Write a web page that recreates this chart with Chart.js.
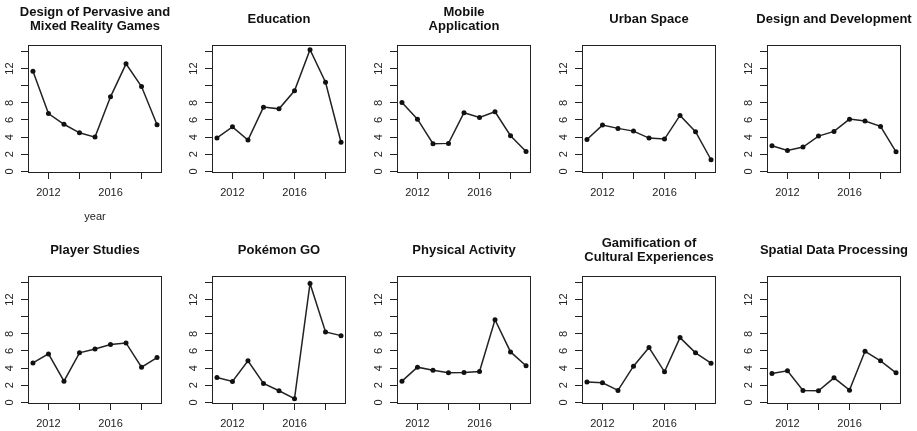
<!DOCTYPE html>
<html>
<head>
<meta charset="utf-8">
<script src="https://cdn.jsdelivr.net/npm/chart.js@4.4.0/dist/chart.umd.min.js"></script>
<style>
html, body { margin: 0; padding: 0; background: #fff; }
body { width: 917px; height: 431px; position: relative; overflow: hidden; }
canvas { position: absolute; }
</style>
</head>
<body>
<script>
const years = [2011, 2012, 2013, 2014, 2015, 2016, 2017, 2018, 2019];
const xTicks = [2012, 2014, 2016, 2018];
const xLabels = ["2012", "", "2016", ""];
const yTicks = [0, 2, 4, 6, 8, 10, 12, 14];
const yLabels = ["0", "2", "4", "6", "8", "", "12", ""];

const titles = [
    ["Design of Pervasive and", "Mixed Reality Games"],
    ["Education"],
    ["Mobile", "Application"],
    ["Urban Space"],
    ["Design and Development"],
    ["Player Studies"],
    ["Pokémon GO"],
    ["Physical Activity"],
    ["Gamification of", "Cultural Experiences"],
    ["Spatial Data Processing"]
];

const pervasive    = [11.7, 6.75, 5.5, 4.5, 4.0, 8.7, 12.55, 9.9, 5.45];
const education    = [3.9, 5.2, 3.65, 7.5, 7.3, 9.4, 14.2, 10.4, 3.4];
const mobile       = [8.05, 6.1, 3.23, 3.27, 6.85, 6.3, 6.96, 4.16, 2.33];
const urban        = [3.73, 5.4, 5.02, 4.7, 3.89, 3.77, 6.53, 4.63, 1.36];
const designDev    = [2.99, 2.45, 2.84, 4.12, 4.67, 6.1, 5.87, 5.25, 2.29];
const player       = [4.61, 5.66, 2.48, 5.78, 6.24, 6.75, 6.94, 4.11, 5.23];
const pokemon      = [2.91, 2.44, 4.85, 2.21, 1.36, 0.43, 13.88, 8.22, 7.79];
const physical     = [2.48, 4.11, 3.76, 3.45, 3.49, 3.61, 9.65, 5.89, 4.27];
const gamification = [2.37, 2.29, 1.4, 4.23, 6.4, 3.57, 7.56, 5.78, 4.58];
const spatial      = [3.37, 3.68, 1.4, 1.36, 2.87, 1.43, 5.97, 4.85, 3.45];

const series = [pervasive, education, mobile, urban, designDev,
                player, pokemon, physical, gamification, spatial];

Chart.defaults.font.family = "'Liberation Sans', Arial, sans-serif";
Chart.defaults.color = "#222";

const boxLefts = [28, 212, 397, 582, 767];
const ink = "#222";

// draws the R style frame round the plot region
const boxPlugin = {
    id: "box",
    beforeDatasetsDraw(chart) {
        const a = chart.chartArea;
        const ctx = chart.ctx;
        ctx.save();
        ctx.strokeStyle = ink;
        ctx.lineWidth = 1;
        ctx.strokeRect(Math.round(a.left) + 0.5, Math.round(a.top) + 0.5,
                       Math.round(a.right - a.left) - 1, Math.round(a.bottom - a.top));
        ctx.restore();
    }
};

for (var i = 0; i < series.length; i++) {
    var row = i < 5 ? 0 : 1;
    var col = i % 5;
    var canvasTop = row ? 228 : 0;
    var canvasHeight = row ? 227 : 224;
    var boxTop = row ? 48 : 45;
    var center = row ? 22.7 : 19.8;
    var n = titles[i].length;
    var pt = center - n * 7;
    var pb = boxTop - pt - n * 14;

    const canvas = document.createElement("canvas");
    canvas.width = 194;
    canvas.height = canvasHeight;
    canvas.style.left = (boxLefts[col] - 30) + "px";
    canvas.style.top = canvasTop + "px";
    document.body.appendChild(canvas);

    const vals = series[i];
    new Chart(canvas, {
        type: "line",
        data: {
            datasets: [{
                data: years.map((y, j) => ({x: y, y: vals[j]})),
                borderColor: ink,
                borderWidth: 1.5,
                pointRadius: 2.5,
                pointBackgroundColor: "#111",
                pointBorderWidth: 0,
                tension: 0,
                fill: false
            }]
        },
        options: {
            responsive: false,
            animation: false,
            devicePixelRatio: 1,
            layout: { padding: 0 },
            plugins: {
                legend: { display: false },
                tooltip: { enabled: false },
                title: {
                    display: true,
                    text: titles[i],
                    color: "#111",
                    font: { size: 13, weight: "bold", lineHeight: "14px" },
                    padding: { top: pt, bottom: pb }
                }
            },
            scales: {
                x: {
                    type: "linear",
                    min: 2010.68,
                    max: 2019.32,
                    afterBuildTicks: s => { s.ticks = xTicks.map(v => ({value: v})); },
                    afterFit: s => { s.height = 52; },
                    ticks: {
                        autoSkip: false, maxRotation: 0, padding: 7,
                        font: { size: 11 }, color: ink,
                        callback: (v, idx) => xLabels[idx]
                    },
                    grid: { drawOnChartArea: false, drawTicks: true, tickLength: 7, color: ink },
                    border: { display: false },
                    title: {
                        display: i === 0,
                        text: "year",
                        color: ink,
                        font: { size: 11 },
                        padding: { top: 0, bottom: 0 }
                    }
                },
                y: {
                    type: "linear",
                    min: -0.07,
                    max: 14.75,
                    afterBuildTicks: s => { s.ticks = yTicks.map(v => ({value: v})); },
                    afterFit: s => { s.width = 30; },
                    ticks: {
                        autoSkip: false, minRotation: 90, maxRotation: 90,
                        crossAlign: "center", padding: 5,
                        font: { size: 11 }, color: ink,
                        callback: (v, idx) => yLabels[idx]
                    },
                    grid: { drawOnChartArea: false, drawTicks: true, tickLength: 7, color: ink },
                    border: { display: false }
                },
                yRight: {
                    type: "linear",
                    position: "right",
                    ticks: { display: false },
                    grid: { display: false },
                    border: { display: false },
                    afterFit: s => { s.width = 30; }
                }
            }
        },
        plugins: [boxPlugin]
    });
}
</script>
</body>
</html>
